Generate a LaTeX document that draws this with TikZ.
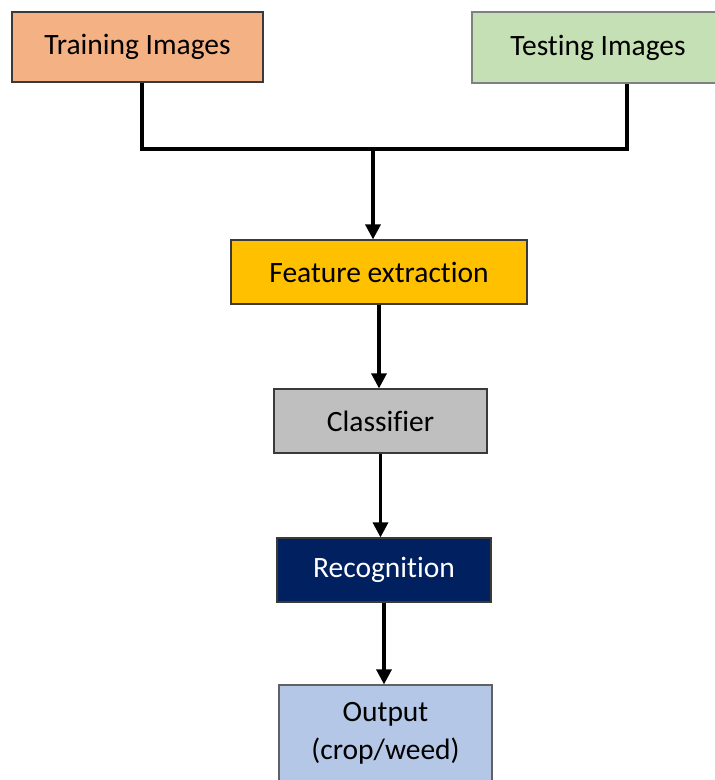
\documentclass[tikz,border=0pt]{standalone}
\usepackage{fontspec}
\setmainfont{Carlito}[Ligatures=NoCommon]
\usetikzlibrary{arrows.meta}
\definecolor{trainc}{HTML}{F4B183}
\definecolor{testc}{HTML}{C5E0B4}
\definecolor{featc}{HTML}{FFC000}
\definecolor{classc}{HTML}{BFBFBF}
\definecolor{recc}{HTML}{002060}
\definecolor{outc}{HTML}{B4C7E7}
\definecolor{bordc}{HTML}{3A3A3A}
\tikzset{
  box/.style={draw=bordc, line width=1.2pt, inner sep=0pt, align=center,
    font=\fontsize{29.5}{38}\selectfont},
  wire/.style={line width=3.2pt, line join=miter},
  arr/.style={line width=3.2pt, -{Triangle[width=15pt,length=15pt]}}
}
\begin{document}
\begin{tikzpicture}[x=1pt,y=-1pt]
\useasboundingbox (0,0) rectangle (715,780);
\node[box, fill=trainc, minimum width=251pt, minimum height=70pt] (tr) at (137.5,47) {Training Images};
\node[box, fill=testc, draw=gray, minimum width=252pt, minimum height=71pt] (te) at (598,47.5) {Testing Images};
\node[box, fill=featc, minimum width=296pt, minimum height=64pt] (fe) at (379,272) {Feature extraction};
\node[box, fill=classc, minimum width=213pt, minimum height=64pt] (cl) at (380.5,421) {Classifier};
\node[box, fill=recc, text=white, minimum width=214pt, minimum height=64pt] (rc) at (384,570) {Recognition};
\node[box, fill=outc, draw=bordc!80, minimum width=213pt, minimum height=96pt] (ou) at (385.5,733) {Output\\(crop/weed)};
\coordinate (ta) at (142,149);
\coordinate (tb) at (627,149);
\coordinate (j) at (373,149);
\draw[wire] (tr.south -| ta) -- (ta) -- (tb) -- (te.south -| tb);
\draw[arr] (j) -- (j |- fe.north);
\draw[arr] (fe.south) -- (fe.south |- cl.north);
\draw[arr] (cl.south) -- (cl.south |- rc.north);
\draw[arr] (rc.south) -- (rc.south |- ou.north);
\end{tikzpicture}
\end{document}
